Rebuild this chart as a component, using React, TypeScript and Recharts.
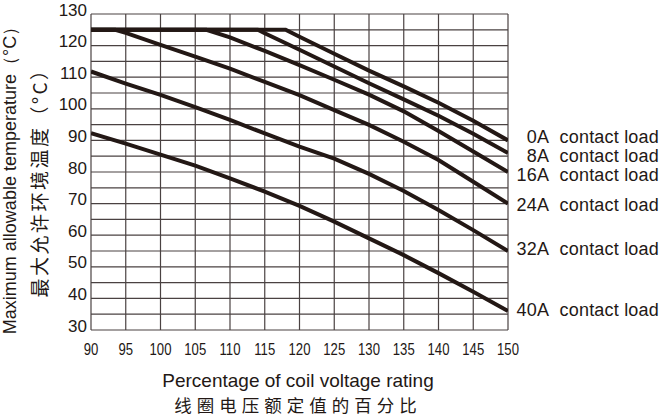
import React from 'react';
import { LineChart, Line, XAxis, YAxis, CartesianGrid } from 'recharts';

// ---- axis values ----
const xTicks = [90, 95, 100, 105, 110, 115, 120, 125, 130, 135, 140, 145, 150];
const yTicks = [30, 40, 50, 60, 70, 80, 90, 100, 110, 120, 130];
const yGrid = [30, 35, 40, 45, 50, 55, 60, 65, 70, 75, 80, 85, 90, 95, 100, 105, 110, 115, 120, 125, 130];

// ---- series: coil voltage % (x) and max ambient temperature °C (y) ----
const x0A = [90, 118, 120, 125, 130, 135, 140, 145, 150];
const y0A = [125, 125, 122.8, 117.4, 112.1, 107.1, 101.9, 96.2, 90];

const x8A = [90, 114, 115, 120, 125, 130, 135, 140, 145, 150];
const y8A = [125, 125, 123.9, 118.7, 113.4, 108.1, 103, 97.8, 92.1, 86];

const x16A = [90, 106.6, 110, 115, 120, 125, 130, 135, 140, 145, 150];
const y16A = [125, 125, 122.6, 118.3, 113.8, 109.2, 104.5, 99.2, 93, 86.5, 80];

const x24A = [90, 93.5, 95, 100, 105, 110, 115, 120, 125, 130, 135, 140, 145, 150];
const y24A = [125, 125, 124, 120.2, 116.5, 112.7, 108.5, 104.3, 99.6, 94.9, 89.6, 83.8, 76.9, 70];

const x32A = [90, 95, 100, 105, 110, 115, 120, 125, 130, 135, 140, 145, 150];
const y32A = [111.8, 108, 104.4, 100.5, 96.5, 92.2, 88, 84.2, 79.4, 74, 68, 61.6, 55];

const x40A = [90, 95, 100, 105, 110, 115, 120, 125, 130, 135, 140, 145, 150];
const y40A = [92.3, 89, 85.5, 82, 78, 73.8, 69.3, 64.3, 59, 53.7, 48, 42.1, 36];

const seriesLabels = ['0A', '8A', '16A', '24A', '32A', '40A'];

const xTitle = 'Percentage of coil voltage rating';
const xTitleCn = '线圈电压额定值的百分比';
const yTitle = 'Maximum allowable temperature（°C）';
const yTitleCn = '最大允许环境温度（°C）';

const toPoints = (xs: number[], ys: number[]) => xs.map((v, i) => ({ v, t: ys[i] }));

const SANS = "'Liberation Sans', Arial, Helvetica, sans-serif";
const CJK = "'Noto Sans CJK SC', 'Noto Sans CJK JP', sans-serif";
const INK = '#231815';

const series = [
  { key: '0A', data: toPoints(x0A, y0A), nudge: -3.5 },
  { key: '8A', data: toPoints(x8A, y8A), nudge: 2.5 },
  { key: '16A', data: toPoints(x16A, y16A), nudge: 2.5 },
  { key: '24A', data: toPoints(x24A, y24A), nudge: 1 },
  { key: '32A', data: toPoints(x32A, y32A), nudge: -2 },
  { key: '40A', data: toPoints(x40A, y40A), nudge: -1 },
];

const YTick = (props: any) => {
  const { x, y, payload } = props;
  return (
    <text x={x} y={y + 1.5} textAnchor="end" fontFamily={SANS} fontSize={17} fill={INK}>
      {payload.value}
    </text>
  );
};

const XTick = (props: any) => {
  const { x, y, payload } = props;
  return (
    <text
      transform={`translate(${x},${y + 25}) scale(0.82,1)`}
      textAnchor="middle"
      fontFamily={SANS}
      fontSize={16}
      fill={INK}
    >
      {payload.value}
    </text>
  );
};

const XTitle = (props: any) => {
  const vb = props.viewBox || { x: 91, y: 330, width: 417, height: 30 };
  const cx = vb.x + vb.width / 2 - 1.5;
  return (
    <g>
      <text x={cx} y={387} textAnchor="middle" fontFamily={SANS} fontSize={19} fill={INK}>
        {xTitle}
      </text>
      <text x={cx} y={411.5} textAnchor="middle" fontFamily={CJK} fontSize={17.5} letterSpacing={5} fill={INK}>
        {xTitleCn}
      </text>
    </g>
  );
};

const YTitle = () => {
  const cy = 176;
  return (
    <g>
      <text transform="rotate(-90)" x={-cy} y={16} textAnchor="middle" fontFamily={SANS} fontSize={18} fill={INK}>
        {yTitle}
      </text>
      <text transform="rotate(-90)" x={-(cy + 2)} y={46.5} textAnchor="middle" fontFamily={CJK} fontSize={19} letterSpacing={2.5} fill={INK}>
        {yTitleCn}
      </text>
    </g>
  );
};

const makeEndLabel = (name: string, last: number, nudge: number) => (p: any) => {
  if (p.index !== last) return null;
  return (
    <text
      x={659}
      y={p.y + nudge + 6.4}
      textAnchor="end"
      fontFamily={SANS}
      fontSize={18}
      letterSpacing={0.2}
      fill={INK}
    >
      {`${name}\u00a0 contact load`}
    </text>
  );
};

export default function App() {
  return (
    <div style={{ position: 'absolute', left: 0, top: 0, background: '#fff' }}>
      <LineChart width={663} height={420} margin={{ top: 14, right: 155, bottom: 60, left: 0 }}>
        <CartesianGrid
          stroke="#4a4242"
          strokeWidth={1.2}
          horizontalValues={yGrid}
          verticalValues={xTicks}
        />
        <XAxis
          dataKey="v"
          type="number"
          domain={[90, 150]}
          ticks={xTicks}
          interval={0}
          axisLine={false}
          tickLine={false}
          tickSize={0}
          tickMargin={0}
          height={30}
          tick={<XTick />}
          label={<XTitle />}
          allowDataOverflow
        />
        <YAxis
          dataKey="t"
          type="number"
          domain={[30, 130]}
          ticks={yTicks}
          interval={0}
          axisLine={false}
          tickLine={false}
          tickSize={0}
          tickMargin={4}
          width={91}
          tick={<YTick />}
          label={<YTitle />}
          allowDataOverflow
        />
        {series.map((s, i) => (
          <Line
            key={s.key}
            data={s.data}
            dataKey="t"
            type="linear"
            stroke={INK}
            strokeWidth={4}
            dot={false}
            activeDot={false}
            isAnimationActive={false}
            label={makeEndLabel(seriesLabels[i], s.data.length - 1, s.nudge)}
          />
        ))}
      </LineChart>
    </div>
  );
}
